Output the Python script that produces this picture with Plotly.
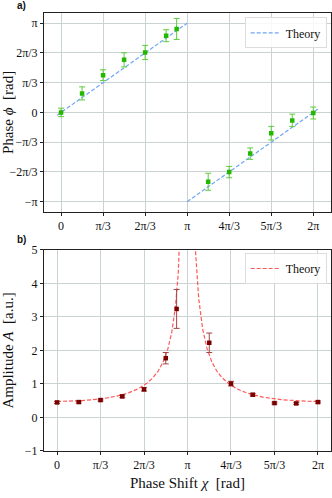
import numpy as np
import plotly.graph_objects as go

pi = np.pi

# measured phase shifts chi [rad]
chi = np.array([0, pi/6, pi/3, pi/2, 2*pi/3, 5*pi/6, 11*pi/12,
                7*pi/6, 4*pi/3, 3*pi/2, 5*pi/3, 11*pi/6, 2*pi])

# a) phase
phase = [0.00, 0.67, 1.31, 1.85, 2.11, 2.70, 2.94,
         -2.44, -2.10, -1.45, -0.73, -0.28, -0.02]
phase_err = [0.15, 0.23, 0.19, 0.25, 0.25, 0.21, 0.37,
             0.30, 0.20, 0.20, 0.24, 0.22, 0.21]

# b) amplitude
amp = [0.45, 0.46, 0.52, 0.63, 0.84, 1.77, 3.24,
       2.23, 1.01, 0.68, 0.43, 0.42, 0.46]
amp_err = [0.03, 0.03, 0.03, 0.04, 0.05, 0.17, 0.58,
           0.29, 0.07, 0.04, 0.03, 0.03, 0.03]
amp0 = 0.48

# theory curves
th_x1 = np.linspace(-0.1, pi, 50)
th_x2 = np.linspace(pi, 6.4, 50)
th_phase_x = np.concatenate([th_x1, [None], th_x2])
th_phase_y = np.concatenate([th_x1, [None], th_x2 - 2*pi])

th_amp_x = np.linspace(0, 2*pi, 801)
th_amp_y = amp0 / np.abs(np.cos(th_amp_x / 2))
th_amp_y[th_amp_y > 8] = np.nan

x_ticks = [0, pi/3, 2*pi/3, pi, 4*pi/3, 5*pi/3, 2*pi]
x_labels = ['0', 'π/3', '2π/3', 'π', '4π/3', '5π/3', '2π']
y_ticks = [-pi, -2*pi/3, -pi/3, 0, pi/3, 2*pi/3, pi]
y_labels = ['−π', '−2π/3', '−π/3', '0', 'π/3', '2π/3', 'π']

font = 'Liberation Serif'
grid = '#c9d3d3'

fig = go.Figure()

fig.add_trace(go.Scatter(x=th_phase_x, y=th_phase_y, mode='lines', name='Theory',
                         line=dict(color='#6fa6f5', dash='4px,2px', width=1.2),
                         connectgaps=False, xaxis='x', yaxis='y', legend='legend'))
fig.add_trace(go.Scatter(x=chi, y=phase, mode='markers', showlegend=False,
                         marker=dict(color='#22b800', size=4.5, symbol='square'),
                         error_y=dict(array=phase_err, color='#5ccb3a', thickness=1, width=3),
                         xaxis='x', yaxis='y'))

fig.add_trace(go.Scatter(x=th_amp_x, y=th_amp_y, mode='lines', name='Theory',
                         line=dict(color='#ff5a5a', dash='4px,2px', width=1.2),
                         xaxis='x2', yaxis='y2', legend='legend2'))
fig.add_trace(go.Scatter(x=chi, y=amp, mode='markers', showlegend=False,
                         marker=dict(color='#7a0000', size=4.5, symbol='square'),
                         error_y=dict(array=amp_err, color='#a04545', thickness=1, width=3),
                         xaxis='x2', yaxis='y2'))

ax = dict(showgrid=True, gridcolor=grid, gridwidth=1, zeroline=False,
          showline=True, linecolor='#222', linewidth=1, mirror=True,
          ticks='outside', ticklen=3, tickcolor='#222', automargin=False,
          tickfont=dict(family=font, size=12, color='#111'))

fig.update_layout(
    width=332, height=498,
    margin=dict(l=44, r=1, t=13, b=47),
    paper_bgcolor='white', plot_bgcolor='white',
    font=dict(family=font, color='#111'),
    xaxis=dict(ax, domain=[0, 1], range=[-0.425, 6.725], anchor='y',
               tickvals=x_ticks, ticktext=x_labels),
    yaxis=dict(ax, domain=[0.546, 1], range=[-3.5, 3.5], anchor='x',
               tickvals=y_ticks, ticktext=y_labels,
               title=dict(text='Phase <i>ϕ</i>  [rad]', font=dict(family=font, size=15), standoff=4)),
    xaxis2=dict(ax, domain=[0, 1], range=[-0.314, 6.597], anchor='y2',
                tickvals=x_ticks, ticktext=x_labels,
                title=dict(text='Phase Shift <i>χ</i>  [rad]', font=dict(family=font, size=15), standoff=6)),
    yaxis2=dict(ax, domain=[0, 0.459], range=[-1, 5], anchor='x2',
                tickvals=[-1, 0, 1, 2, 3, 4, 5], ticktext=['−1', '0', '1', '2', '3', '4', '5'],
                title=dict(text='Amplitude <i>A</i>  [a.u.]', font=dict(family=font, size=15), standoff=8)),
    legend=dict(x=0.985, y=0.99, xanchor='right', yanchor='top',
                bgcolor='rgba(255,255,255,0.85)', bordercolor='#dddddd', borderwidth=1,
                font=dict(family=font, size=12), itemwidth=30),
    legend2=dict(x=0.985, y=0.452, xanchor='right', yanchor='top',
                 bgcolor='rgba(255,255,255,0.85)', bordercolor='#dddddd', borderwidth=1,
                 font=dict(family=font, size=12), itemwidth=30),
    annotations=[
        dict(text='<b>a)</b>', x=-0.056, y=1.0, xref='paper', yref='paper',
             xanchor='right', yanchor='bottom', showarrow=False,
             font=dict(family='Liberation Sans', size=10)),
        dict(text='<b>b)</b>', x=-0.056, y=0.466, xref='paper', yref='paper',
             xanchor='right', yanchor='bottom', showarrow=False,
             font=dict(family='Liberation Sans', size=10)),
    ],
)

fig.write_html("out.html", config={'displayModeBar': False},
               post_script="document.body.style.margin='0';")
